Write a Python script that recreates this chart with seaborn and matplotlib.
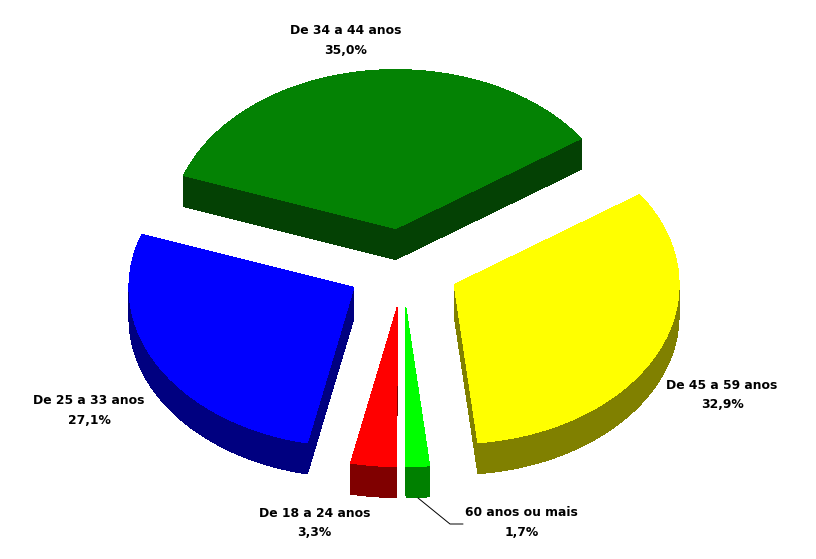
import numpy as np
import matplotlib
matplotlib.use("Agg")
import matplotlib.pyplot as plt
import seaborn as sns

labels = ["De 34 a 44 anos", "De 45 a 59 anos", "60 anos ou mais", "De 18 a 24 anos", "De 25 a 33 anos"]
values = [35.0, 32.9, 1.7, 3.3, 27.1]
value_text = ["35,0%", "32,9%", "1,7%", "3,3%", "27,1%"]
top_colors = ["#048204", "#FFFF00", "#00FF00", "#FF0000", "#0000FF"]
side_colors = ["#044104", "#808000", "#008000", "#800000", "#000080"]
label_pos = [(346, 40.5), (722, 395), (521.5, 522.5), (314.5, 523), (89, 410.5)]

start_angle = 160.5
center = (403, 268)
rx, ry = 225, 159
depth = 31
explode = 0.25

sns.set_theme(style="white")
plt.rcParams["font.family"] = ["DejaVu Sans"]

fig = plt.figure(figsize=(8.16, 5.59), dpi=100)
ax = fig.add_axes([0, 0, 1, 1])
ax.set_xlim(0, 816)
ax.set_ylim(559, 0)
ax.axis("off")

shares = np.array(values) / sum(values) * 360
ends = start_angle - np.cumsum(shares)
starts = ends + shares
draw_order = [0, 4, 1, 3, 2]

for i in draw_order:
    mid = np.radians((starts[i] + ends[i]) / 2)
    ox = center[0] + explode * rx * np.cos(mid)
    oy = center[1] - explode * ry * np.sin(mid)
    t = np.radians(np.linspace(starts[i], ends[i], 120))
    xs = np.r_[ox, ox + rx * np.cos(t)]
    ys = np.r_[oy, oy - ry * np.sin(t)]
    # side walls first, one quad per outline segment
    for k in range(len(xs)):
        n = (k + 1) % len(xs)
        ax.fill([xs[k], xs[n], xs[n], xs[k]],
                [ys[k], ys[n], ys[n] + depth, ys[k] + depth],
                color=side_colors[i], lw=0, antialiased=False)
    ax.fill(xs, ys, color=top_colors[i], lw=0, antialiased=False)

for i, (x, y) in enumerate(label_pos):
    ax.text(x, y, labels[i] + "\n" + value_text[i], ha="center", va="center",
            fontsize=8.9, fontweight="bold", color="black", linespacing=1.65)

# leader line for the smallest slice
ax.plot([418, 450, 463], [498, 524, 524], color="black", lw=0.7)

fig.savefig("out.png", dpi=100)
